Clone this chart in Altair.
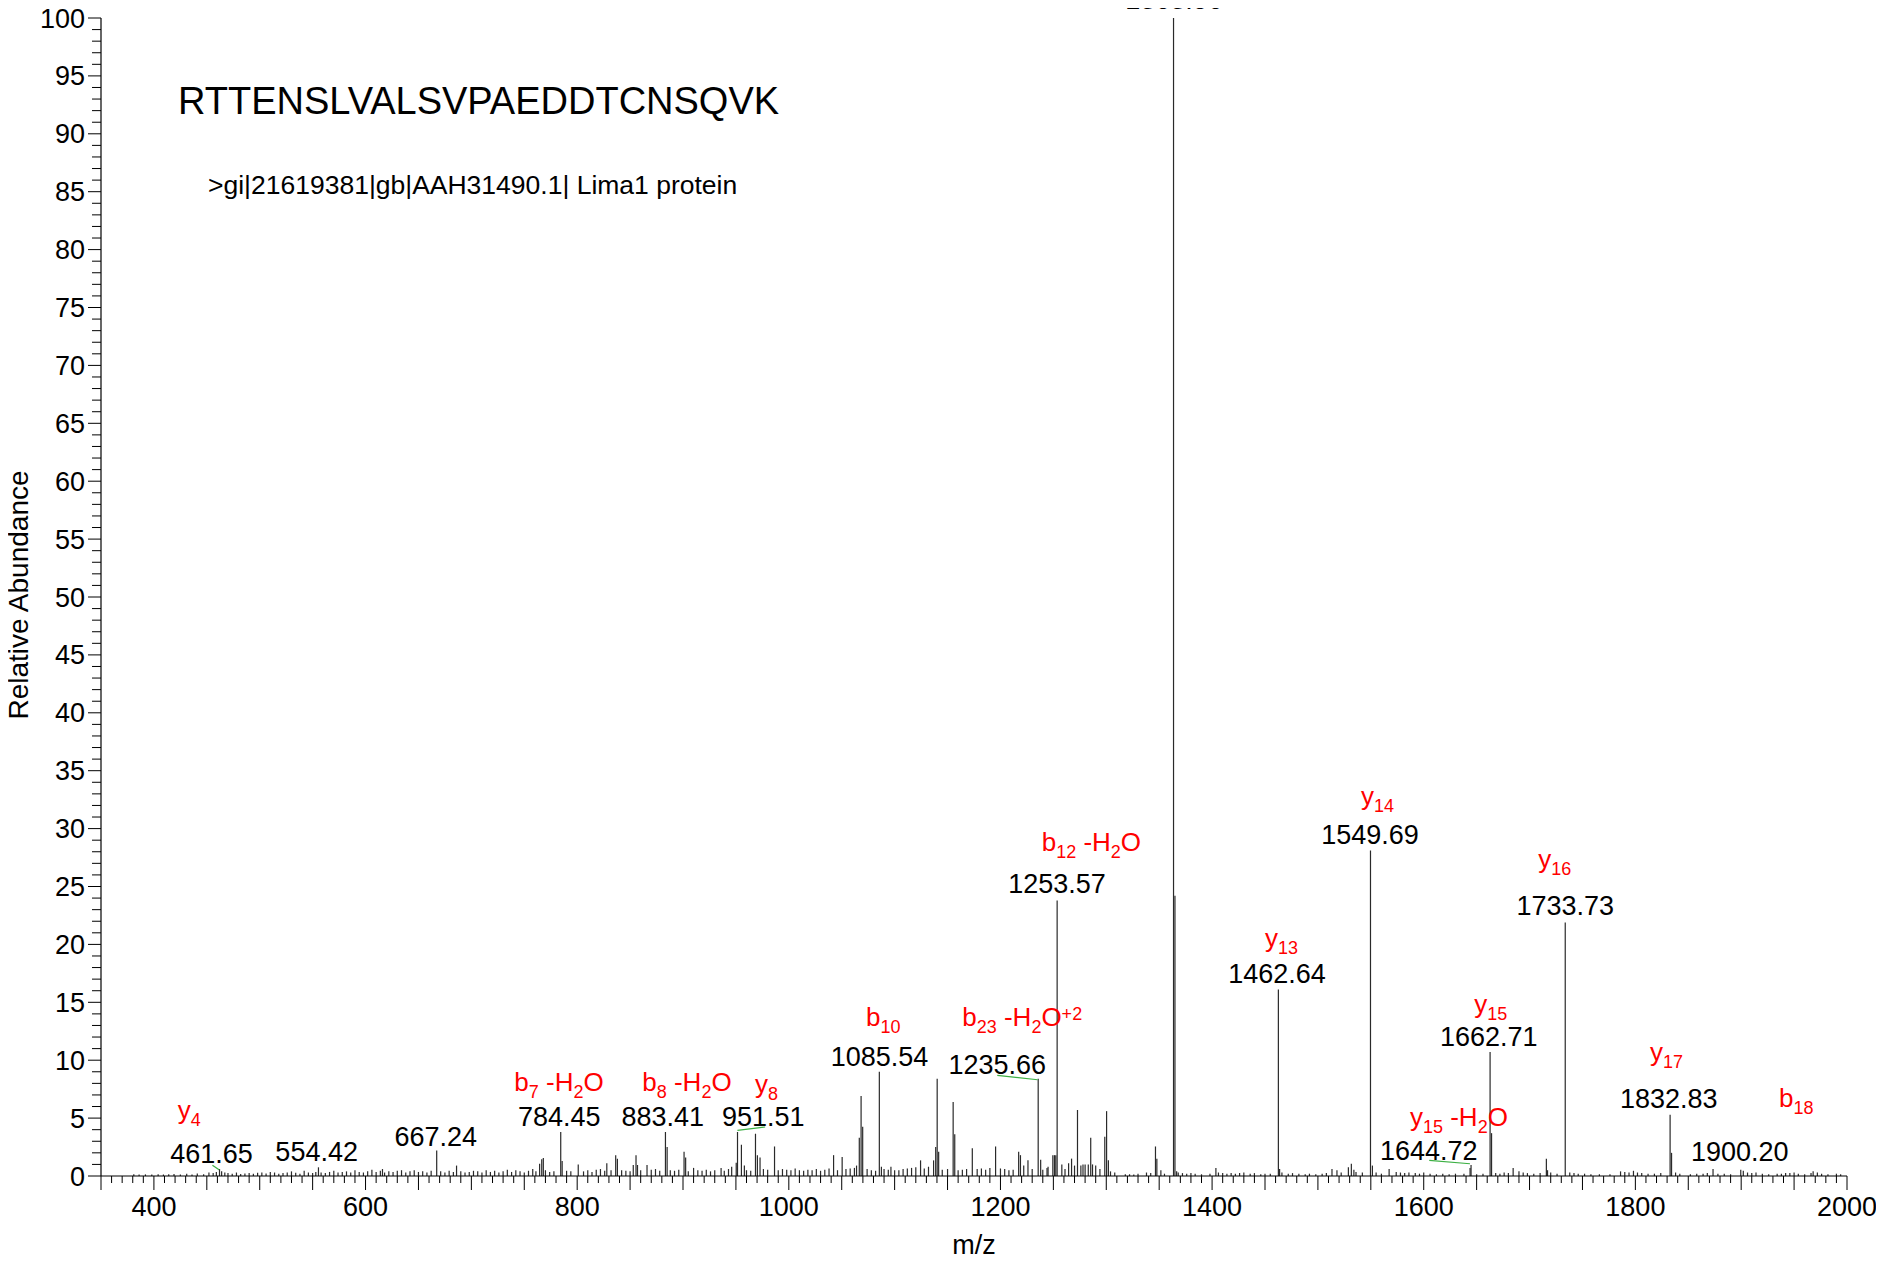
import re
import altair as alt
import pandas as pd

# ---------------- data ----------------
peak_mz = [462.0, 555.5, 616, 667.24, 686, 764.5, 766.5, 768, 784.45, 785.8, 801, 828, 836.4, 838,
           853, 855.6, 857, 866, 883.41, 885, 901, 902.5, 910, 936, 950.3, 951.51, 955.2, 958,
           968.5, 970.3, 972.8, 986.5, 1042.3, 1050.4, 1064, 1066.6, 1068.3, 1069.8, 1085.54, 1087.5,
           1096.5, 1124.5, 1136.8, 1138.8, 1140.2, 1141.6, 1155.3, 1156.8, 1173.4, 1195.4, 1217.2,
           1218.9, 1226, 1235.66, 1238, 1245, 1249.5, 1251, 1252.3, 1253.57, 1264.4, 1267.2, 1272.8,
           1278, 1285.3, 1287, 1298.6, 1300.3, 1302, 1346.5, 1347.8, 1351.6, 1363.56, 1364.9, 1366.5,
           1403.6, 1462.64, 1463.8, 1513.3, 1528.8, 1531.6, 1534, 1549.69, 1551.5, 1567.3, 1643.8,
           1644.72, 1662.71, 1664.1, 1684.5, 1715.9, 1717, 1733.73, 1798.2, 1832.83, 1834.2, 1873.4,
           1899.6, 1968]
peak_int = [0.6, 0.75, 0.6, 2.2, 0.9, 1.05, 1.45, 1.55, 3.8, 1.3, 1.0, 1.1, 1.8, 1.5,
            0.95, 1.8, 0.95, 0.95, 3.8, 2.5, 2.1, 1.6, 0.7, 0.7, 1.15, 3.8, 2.7, 0.9,
            3.65, 1.8, 1.6, 2.55, 1.8, 1.65, 0.9, 3.3, 6.9, 4.25, 9.0, 0.8,
            0.8, 1.35, 1.35, 2.5, 8.4, 2.1, 6.4, 3.6, 2.4, 2.55, 2.1,
            1.8, 1.35, 8.4, 1.4, 0.8, 1.8, 1.8, 1.8, 23.8, 1.1, 1.5, 5.7,
            1.0, 3.3, 1.0, 3.4, 5.6, 1.35, 2.55, 1.5, 0.5, 100, 24.2, 0.4,
            0.7, 16.1, 0.6, 0.6, 0.75, 1.05, 0.55, 28.1, 0.9, 0.6, 0.7,
            0.95, 10.7, 3.7, 0.7, 1.5, 0.5, 21.9, 0.45, 5.3, 2.0, 0.6,
            0.55, 0.4]

noise_mz = [381, 386, 392, 398, 404, 409, 414, 419, 425, 431, 436, 441, 447, 452, 456, 459,
            464, 467, 470, 474, 478, 482, 486, 490, 494, 498, 502, 506, 510, 514, 518, 522, 526, 530,
            534, 538, 542, 546, 550, 553, 558, 562,
            566, 570, 574, 578, 582, 586, 590, 594, 598, 602, 606, 610, 614, 618, 622, 626, 630, 634,
            638, 642, 646, 650, 654, 658, 662,
            671, 675, 679, 683, 690, 694, 698, 702, 706, 710, 714, 718, 722, 726, 730, 734, 738, 742,
            746, 750, 754, 758, 761,
            770, 774, 778, 790, 794, 806, 810, 814, 818, 822, 826, 832, 842, 846, 850, 860, 870, 874,
            878, 888, 892, 896, 905,
            914, 918, 922, 926, 930, 939, 943, 946, 960, 964, 976, 980, 990, 994, 998, 1002, 1006,
            1010, 1014, 1018, 1022, 1026, 1030, 1034, 1038, 1046, 1054, 1058, 1062,
            1074, 1078, 1082, 1090, 1094, 1100, 1104, 1108, 1112, 1116, 1120, 1128, 1132, 1145, 1150,
            1160, 1164, 1168, 1178, 1182, 1186, 1190, 1200, 1204, 1208, 1212, 1222, 1230, 1240, 1244,
            1258, 1261, 1270, 1276, 1280, 1283, 1290, 1294, 1304, 1308,
            1318, 1322, 1326, 1330, 1338, 1342, 1355, 1368, 1372, 1376, 1380, 1384, 1390, 1398, 1406,
            1410, 1414, 1418, 1422, 1426, 1430, 1436, 1440, 1446, 1450, 1455, 1466,
            1472, 1476, 1482, 1488, 1492, 1498, 1504, 1508, 1518, 1522, 1536, 1542, 1555, 1560, 1574,
            1578, 1582, 1586, 1592, 1596, 1600, 1606, 1612, 1618, 1624, 1630, 1638, 1650, 1656, 1668,
            1672, 1676, 1680, 1690, 1694, 1698, 1704, 1710, 1720, 1726, 1738, 1742, 1746, 1752, 1758,
            1766, 1776, 1786, 1790, 1794, 1802, 1806, 1812, 1818, 1824, 1838, 1842, 1852, 1858, 1864,
            1868, 1878, 1884, 1890, 1902, 1906, 1910, 1914, 1920, 1926, 1934, 1938, 1942, 1946, 1950,
            1954, 1960, 1966, 1972, 1976, 1982, 1990, 1994]
noise_int = [.15, .12, .14, .12, .16, .13, .15, .18, .14, .2, .12, .22, .15, .3, .25, .35,
             .4, .3, .25, .2, .3, .18, .22, .25, .2, .28, .3, .22, .35, .3, .2, .25, .3, .4,
             .28, .2, .45, .3, .25, .35, .3, .25,
             .35, .45, .3, .35, .4, .3, .5, .35, .3, .4, .55, .35, .45, .3, .4, .35, .45, .5,
             .3, .4, .5, .35, .4, .3, .45,
             .4, .3, .45, .35, .4, .3, .35, .45, .4, .3, .5, .35, .45, .3, .4, .55, .35, .5,
             .4, .3, .45, .6, .4,
             .5, .35, .4, .45, .4, .4, .5, .35, .55, .6, .45, .5, .5, .45, .4, .5, .55, .6,
             .45, .5, .45, .55, .4,
             .5, .45, .55, .4, .5, .45, .6, .8, .5, .45, .6, .55, .5, .6, .55, .5, .65,
             .5, .45, .55, .5, .6, .45, .55, .65, .5, .6, .65, .7,
             .6, .5, .45, .6, .55, .5, .5, .6, .65, .7, .75, .65, .8, .55, .6,
             .5, .55, .6, .6, .65, .55, .7, .65, .6, .5, .55, .9, .6, .55, .7,
             1.0, .6, .9, .9, 1.0, 1.0, .9, .6, .4, .3,
             .15, .15, .12, .2, .3, .25, .2, .3, .25, .2, .25, .2, .15, .2, .3,
             .25, .2, .25, .2, .25, .3, .2, .25, .15, .2, .2, .3,
             .2, .25, .2, .15, .2, .15, .2, .25, .5, .3, .35, .3, .3, .2, .35,
             .3, .25, .3, .25, .2, .3, .2, .15, .2, .15, .2, .2, .15, .2, .25,
             .2, .3, .25, .4, .3, .25, .2, .25, .3, .2, .3, .25, .2, .2, .15,
             .15, .15, .4, .35, .3, .3, .25, .2, .2, .25, .3, .2, .15, .2, .2,
             .25, .2, .2, .15, .45, .3, .25, .3, .2, .15, .2, .2, .25, .25, .3,
             .2, .15, .25, .3, .2, .15, .2, .15]

mass_text = ["1363.56", "1253.57", "1549.69", "1462.64", "1733.73", "1662.71", "1832.83", "1900.20",
             "1644.72", "1235.66", "1085.54", "951.51", "883.41", "784.45", "667.24", "554.42", "461.65"]
mass_lx = [1364.0, 1253.4, 1549.2, 1461.3, 1733.8, 1661.4, 1831.6, 1898.7,
           1604.7, 1196.9, 1085.7, 975.9, 880.8, 783.0, 666.3, 553.8, 454.4]
mass_ly = [100.8, 24.4, 28.7, 16.7, 22.5, 11.2, 5.9, 1.26,
           1.36, 8.83, 9.46, 4.34, 4.34, 4.34, 2.62, 1.29, 1.15]

ion_text = ["y_4", "b_7 -H_2O", "b_8 -H_2O", "y_8", "b_10", "b_23 -H_2O^+2", "b_12 -H_2O",
            "y_13", "y_14", "y_15", "y_15 -H_2O", "y_16", "y_17", "b_18"]
ion_lx = [422.6, 740.6, 861.5, 968.0, 1072.9, 1163.9, 1239.0, 1450.0, 1540.7, 1647.8, 1587.0,
          1708.2, 1813.8, 1935.7]
ion_ly = [4.95, 7.36, 7.36, 7.17, 12.92, 12.92, 28.08, 19.8, 32.0, 14.1, 4.28, 26.6, 9.9, 6.0]

link_x = [455.3, 951.4, 1197.0, 1605.2]
link_y = [0.93, 3.94, 8.69, 1.35]
link_x2 = [461.6, 977.6, 1235.1, 1643.7]
link_y2 = [0.54, 4.23, 8.31, 1.06]

peptide = "RTTENSLVALSVPAEDDTCNSQVK"
protein = ">gi|21619381|gb|AAH31490.1| Lima1 protein"
x_title = "m/z"
y_title = "Relative Abundance"

x_label_ticks = [400, 600, 800, 1000, 1200, 1400, 1600, 1800, 2000]
y_label_ticks = list(range(0, 101, 5))

# ---------------- layout ----------------
W, H = 1746, 1158
XMIN, XMAX = 350, 2000
YMIN, YMAX = 0, 100
PXU = W / (XMAX - XMIN)
FONT = "Liberation Sans"
AX_FS = 27
MAIN_FS, SUB_FS = 26, 18
CHAR_W = {'b': .556, 'y': .5, '-': .333, 'H': .722, 'O': .778, '+': .584, ' ': .278}


def text_width(s, fs):
    return sum(CHAR_W.get(c, .556) for c in s) * fs


rows = []
for txt, lx, ly in zip(ion_text, ion_lx, ion_ly):
    cursor = 0.0
    for sub, sup, main in re.findall(r'_(\d+)|\^(\S+)|([^_^]+)', txt):
        if main:
            stripped = main.lstrip(" ")
            cursor += text_width(main[:len(main) - len(stripped)], MAIN_FS)
            rows.append(dict(t=stripped, x=lx + cursor / PXU, y=ly, k="m"))
            cursor += text_width(stripped, MAIN_FS)
        elif sub:
            rows.append(dict(t=sub, x=lx + cursor / PXU, y=ly, k="s"))
            cursor += text_width(sub, SUB_FS)
        else:
            rows.append(dict(t=sup, x=lx + cursor / PXU, y=ly, k="p"))
            cursor += text_width(sup, SUB_FS)
ion_df = pd.DataFrame(rows)

spec_df = pd.DataFrame({"mz": noise_mz + peak_mz, "inten": noise_int + peak_int})
mass_df = pd.DataFrame({"t": mass_text, "x": mass_lx, "y": mass_ly})
link_df = pd.DataFrame({"x": link_x, "y": link_y, "x2": link_x2, "y2": link_y2})

xs = alt.Scale(domain=[XMIN, XMAX], nice=False, zero=False)
ys = alt.Scale(domain=[YMIN, YMAX], nice=False, zero=True)


def X(f):
    return alt.X(f, type="quantitative", scale=xs, axis=None)


def Y(f):
    return alt.Y(f, type="quantitative", scale=ys, axis=None)


# ---------------- spectrum ----------------
spec = alt.Chart(spec_df).mark_rule(color="#2a2a2a", strokeWidth=1.2).encode(
    x=X("mz"), y=Y("inten"), y2=alt.datum(0))

links = alt.Chart(link_df).mark_rule(color="#3cb043", strokeWidth=1.2).encode(
    x=X("x"), x2="x2:Q", y=Y("y"), y2="y2:Q")

masses = alt.Chart(mass_df).mark_text(
    font=FONT, fontSize=27, color="black", align="center", baseline="alphabetic"
).encode(x=X("x"), y=Y("y"), text="t:N")


def ion_layer(kind, fs, dy):
    return alt.Chart(ion_df).transform_filter(alt.datum.k == kind).mark_text(
        font=FONT, fontSize=fs, color="#ff0000", align="left", baseline="alphabetic", dy=dy
    ).encode(x=X("x"), y=Y("y"), text="t:N")


ions_main = ion_layer("m", MAIN_FS, 0)
ions_sub = ion_layer("s", SUB_FS, 7)
ions_sup = ion_layer("p", SUB_FS, -6)

head = alt.Chart(pd.DataFrame({"t": [peptide]})).mark_text(
    font=FONT, fontSize=38, color="black", align="left", baseline="alphabetic"
).encode(x=alt.value(77), y=alt.value(96), text="t:N")
subhead = alt.Chart(pd.DataFrame({"t": [protein]})).mark_text(
    font=FONT, fontSize=26.5, color="black", align="left", baseline="alphabetic"
).encode(x=alt.value(107), y=alt.value(176), text="t:N")

# ---------------- axes (drawn through the same scales) ----------------
x_dom = alt.Chart(pd.DataFrame({"a": [XMIN], "b": [XMAX], "y": [YMIN]})).mark_rule(
    color="black", strokeWidth=1.2).encode(x=X("a"), x2="b:Q", y=Y("y"))
y_dom = alt.Chart(pd.DataFrame({"x": [XMIN], "a": [YMIN], "b": [YMAX]})).mark_rule(
    color="black", strokeWidth=1.2).encode(x=X("x"), y=Y("a"), y2="b:Q")

x_big = alt.Chart(pd.DataFrame({"v": list(range(XMIN, XMAX + 1, 50))})).mark_rule(
    color="black", strokeWidth=1).encode(x=X("v"), y=alt.value(H), y2=alt.value(H + 14))
x_small = alt.Chart(pd.DataFrame({"v": [v for v in range(XMIN, XMAX + 1, 10) if v % 50]})).mark_rule(
    color="black", strokeWidth=1).encode(x=X("v"), y=alt.value(H), y2=alt.value(H + 7))
x_lab = alt.Chart(pd.DataFrame({"v": x_label_ticks, "t": [str(v) for v in x_label_ticks]})).mark_text(
    font=FONT, fontSize=AX_FS, color="black", align="center", baseline="alphabetic"
).encode(x=X("v"), y=alt.value(H + 40), text="t:N")

y_big = alt.Chart(pd.DataFrame({"v": y_label_ticks})).mark_rule(
    color="black", strokeWidth=1).encode(y=Y("v"), x=alt.value(0), x2=alt.value(-13))
y_small = alt.Chart(pd.DataFrame({"v": [v for v in range(YMIN, YMAX + 1) if v % 5]})).mark_rule(
    color="black", strokeWidth=1).encode(y=Y("v"), x=alt.value(0), x2=alt.value(-9))
y_lab = alt.Chart(pd.DataFrame({"v": y_label_ticks, "t": [str(v) for v in y_label_ticks]})).mark_text(
    font=FONT, fontSize=AX_FS, color="black", align="right", baseline="alphabetic", dy=9.5
).encode(y=Y("v"), x=alt.value(-16), text="t:N")

x_tit = alt.Chart(pd.DataFrame({"t": [x_title]})).mark_text(
    font=FONT, fontSize=AX_FS, color="black", align="center", baseline="alphabetic"
).encode(x=alt.value(W / 2), y=alt.value(H + 78), text="t:N")
y_tit = alt.Chart(pd.DataFrame({"t": [y_title]})).mark_text(
    font=FONT, fontSize=28, color="black", align="center", baseline="middle", angle=270
).encode(x=alt.value(-81), y=alt.value(H / 2 - 2), text="t:N")

chart = alt.layer(
    spec, links, masses, ions_main, ions_sub, ions_sup, head, subhead,
    x_dom, y_dom, x_big, x_small, x_lab, y_big, y_small, y_lab, x_tit, y_tit,
).properties(
    width=W, height=H,
    padding={"left": 93, "top": 10, "right": 29, "bottom": 83},
    autosize=alt.AutoSizeParams(type="none"),
    background="white",
).configure_view(strokeWidth=0, stroke="transparent")

chart.save("out.html", embed_options={"renderer": "svg", "actions": False})
